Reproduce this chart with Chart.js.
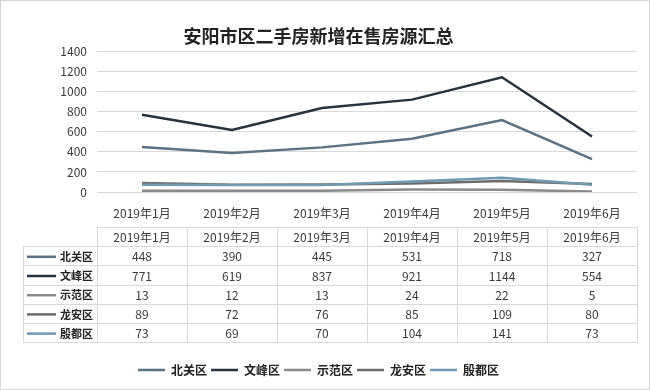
<!DOCTYPE html>
<html>
<head>
<meta charset="utf-8">
<title>安阳市区二手房新增在售房源汇总</title>
<script src="https://cdn.jsdelivr.net/npm/chart.js@4.4.1/dist/chart.umd.min.js"></script>
<style>
    html, body { margin: 0; padding: 0; background: #fff; }
    canvas { display: block; outline: 1px solid #d6d6d6; outline-offset: -1px; }
</style>
</head>
<body>
<canvas id="chart" width="650" height="390"></canvas>
<script>
const months = ['2019年1月', '2019年2月', '2019年3月', '2019年4月', '2019年5月', '2019年6月'];
const districts = ['北关区', '文峰区', '示范区', '龙安区', '殷都区'];
const beiguan = [448, 390, 445, 531, 718, 327];
const wenfeng = [771, 619, 837, 921, 1144, 554];
const shifan = [13, 12, 13, 24, 22, 5];
const longan = [89, 72, 76, 85, 109, 80];
const yindu = [73, 69, 70, 104, 141, 73];
const seriesValues = [beiguan, wenfeng, shifan, longan, yindu];
const lineColors = ['#5a7282', '#26323c', '#8a8a8a', '#6d6d6d', '#6f9ab0'];

const FONT = '"Noto Sans CJK SC", "Noto Sans", sans-serif';
const TEXT = '#3a3a3a';
const GRID = '#d9d9d9';

// Excel-style data table under the x axis, columns follow the x scale
const dataTable = {
    id: 'dataTable',
    afterDraw(chart) {
        const ctx = chart.ctx;
        const xs = chart.scales.x;
        const area = chart.chartArea;
        const colW = xs.width / months.length;
        const top = area.bottom + 35;
        const rowH = 19.2;
        const left = 23;
        const right = area.right;
        const bottom = top + rowH * (districts.length + 1);

        ctx.save();
        ctx.strokeStyle = GRID;
        ctx.lineWidth = 1;
        ctx.beginPath();
        // header row top line (data columns only)
        ctx.moveTo(area.left, top + 0.5);
        ctx.lineTo(right, top + 0.5);
        // row lines
        for (let r = 1; r <= districts.length + 1; r++) {
            const y = Math.round(top + rowH * r) + 0.5;
            ctx.moveTo(left, y);
            ctx.lineTo(right, y);
        }
        // left border of label column
        ctx.moveTo(left + 0.5, Math.round(top + rowH) + 0.5);
        ctx.lineTo(left + 0.5, Math.round(bottom) + 0.5);
        // column separators
        for (let c = 0; c <= months.length; c++) {
            const x = Math.round(area.left + colW * c) + 0.5;
            ctx.moveTo(x, top);
            ctx.lineTo(x, Math.round(bottom) + 0.5);
        }
        ctx.stroke();

        ctx.textBaseline = 'middle';
        ctx.fillStyle = TEXT;
        ctx.textAlign = 'center';
        ctx.font = '12px ' + FONT;
        months.forEach((m, i) => {
            ctx.fillText(m, xs.getPixelForValue(i), top + rowH / 2 + 1);
        });

        districts.forEach((name, r) => {
            const cy = top + rowH * (r + 1.5) + 1;
            ctx.strokeStyle = lineColors[r];
            ctx.lineWidth = 2.5;
            ctx.beginPath();
            ctx.moveTo(27, cy);
            ctx.lineTo(56, cy);
            ctx.stroke();

            ctx.fillStyle = '#222';
            ctx.textAlign = 'right';
            ctx.font = 'bold 11px ' + FONT;
            ctx.fillText(name, 93, cy);

            ctx.fillStyle = TEXT;
            ctx.textAlign = 'center';
            ctx.font = '12px ' + FONT;
            seriesValues[r].forEach((v, i) => {
                ctx.fillText(String(v), xs.getPixelForValue(i), cy);
            });
        });
        ctx.restore();
    }
};

const ctx = document.getElementById('chart').getContext('2d');
const chart = new Chart(ctx, {
    type: 'line',
    data: {
        labels: months,
        datasets: districts.map((name, i) => ({
            label: name,
            data: seriesValues[i],
            borderColor: lineColors[i],
            backgroundColor: lineColors[i],
            borderWidth: 2.5,
            pointRadius: 0,
            tension: 0,
            fill: false,
            order: districts.length - i // later series on top, like Excel
        }))
    },
    options: {
        responsive: false,
        animation: false,
        layout: { padding: { top: 0, right: 13, bottom: 4, left: 0 } },
        plugins: {
            title: {
                display: true,
                text: '安阳市区二手房新增在售房源汇总',
                color: '#222',
                font: { family: FONT, size: 18, weight: 'bold' },
                padding: { top: 25, bottom: 5 }
            },
            legend: {
                position: 'bottom',
                labels: {
                    usePointStyle: true,
                    pointStyle: 'line',
                    pointStyleWidth: 27,
                    padding: 4,
                    color: '#222',
                    font: { family: FONT, size: 12, weight: 'bold' },
                    sort: (a, b) => a.datasetIndex - b.datasetIndex
                }
            },
            tooltip: { enabled: false }
        },
        scales: {
            x: {
                offset: true,
                grid: { display: false },
                border: { display: false },
                ticks: {
                    color: TEXT,
                    padding: 6,
                    maxRotation: 0,
                    font: { family: FONT, size: 12 }
                },
                afterFit(scale) {
                    scale.height = 168;
                }
            },
            y: {
                min: 0,
                max: 1400,
                grid: { color: GRID, drawTicks: false },
                border: { display: false },
                ticks: {
                    stepSize: 200,
                    padding: 10,
                    color: TEXT,
                    font: { family: FONT, size: 12 },
                    callback: (v) => String(v)
                },
                afterFit(scale) {
                    scale.width = 97;
                }
            }
        }
    },
    plugins: [dataTable]
});
</script>
</body>
</html>
